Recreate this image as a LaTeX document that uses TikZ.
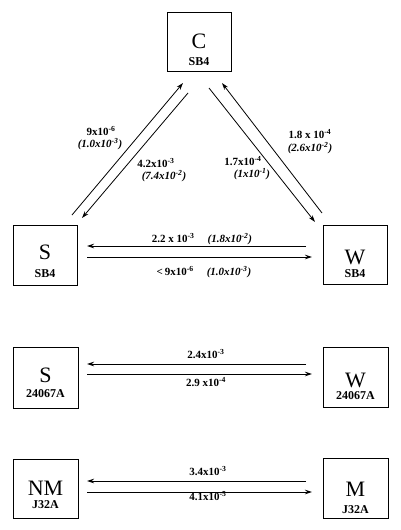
\documentclass[tikz,border=0pt]{standalone}
\usepackage{fontspec}
\setmainfont{Liberation Serif}
\usetikzlibrary{arrows.meta}
\newcommand{\sps}[1]{\textsuperscript{#1}}
\begin{document}
\begin{tikzpicture}[x=1pt,y=-1pt,
  box/.style={draw,line width=0.7pt,minimum width=64pt,minimum height=59pt,inner sep=0pt},
  big/.style={inner sep=0pt,text height=15pt,text depth=0pt,font=\fontsize{22}{22}\selectfont},
  sub/.style={inner sep=0pt,text height=8pt,text depth=0pt,font=\fontsize{12}{12}\selectfont\bfseries},
  num/.style={inner sep=0pt,text height=7.5pt,text depth=0pt,font=\fontsize{11}{11}\selectfont\bfseries},
  arr/.style={line width=0.8pt,-{Stealth[length=7pt,width=4.5pt]}}]
\useasboundingbox (0,0) rectangle (400,530);
% boxes
\node[box] (C) at (199,42) {};
\node[box,minimum height=60pt] (S1) at (45,255) {};
\node[box] (W1) at (355,254.5) {};
\node[box,minimum width=65pt,minimum height=61pt] (S2) at (45.5,377.5) {};
\node[box,minimum width=65pt,minimum height=60pt] (W2) at (355.5,377) {};
\node[box,minimum width=65pt] (NM) at (45.5,488.5) {};
\node[box,minimum width=65pt,minimum height=60pt] (M) at (355.5,488) {};
% box texts
\node[big] (Ct) at (199,41) {C};
\node[sub] (Cs) at (199,61) {SB4};
\node[big] (S1t) at (45,252) {S};
\node[sub] (S1s) at (45,273) {SB4};
\node[big] (W1t) at (355,256.5) {W};
\node[sub] (W1s) at (355,273) {SB4};
\node[big] (S2t) at (45.5,374.5) {S};
\node[sub] (S2s) at (45.5,393) {24067A};
\node[big] (W2t) at (355.5,379.5) {W};
\node[sub] (W2s) at (355.5,395.5) {24067A};
\node[big] (NMt) at (45.5,487.5) {NM};
\node[sub] (NMs) at (45.5,504) {J32A};
\node[big] (Mt) at (355.5,489) {M};
\node[sub] (Ms) at (355.5,509) {J32A};
% connector end points
\coordinate (a1) at (72,215);  \coordinate (a2) at (183,83);
\coordinate (b1) at (188,93);  \coordinate (b2) at (82,218);
\coordinate (c1) at (322,213); \coordinate (c2) at (222,83);
\coordinate (d1) at (209,88);  \coordinate (d2) at (315,222);
\coordinate (e1) at (306,246); \coordinate (e2) at (87,246);
\coordinate (f1) at (87,257);  \coordinate (f2) at (312,257);
\coordinate (g1) at (306,364); \coordinate (g2) at (87,364);
\coordinate (h1) at (87,374);  \coordinate (h2) at (312,374);
\coordinate (i1) at (306,481); \coordinate (i2) at (87,481);
\coordinate (j1) at (87,492);  \coordinate (j2) at (312,492);
% connectors
\draw[arr] (a1) -- (a2);
\draw[arr] (b1) -- (b2);
\draw[arr] (c1) -- (c2);
\draw[arr] (d1) -- (d2);
\draw[arr] (e1) -- (e2);
\draw[arr] (f1) -- (f2);
\draw[arr] (g1) -- (g2);
\draw[arr] (h1) -- (h2);
\draw[arr] (i1) -- (i2);
\draw[arr] (j1) -- (j2);
% labels
\node[num] (l1) at (101,132) {9x10\sps{-6}};
\node[num] (l1b) at (100,144) {\itshape(1.0x10\sps{-3})};
\node[num] (l2) at (156,163.5) {4.2x10\sps{-3}};
\node[num] (l2b) at (164,175.5) {\itshape(7.4x10\sps{-2})};
\node[num] (l3) at (310,135) {1.8 x 10\sps{-4}};
\node[num] (l3b) at (310,148) {\itshape(2.6x10\sps{-2})};
\node[num] (l4) at (243,161.5) {1.7x10\sps{-4}};
\node[num] (l4b) at (252,173.5) {\itshape(1x10\sps{-1})};
\node[num] (l5) at (202,239) {2.2 x 10\sps{-3}\hspace{13pt}{\itshape(1.8x10\sps{-2})}};
\node[num] (l6) at (204,272) {<\,9x10\sps{-6}\hspace{13pt}{\itshape(1.0x10\sps{-3})}};
\node[num] (l7) at (206,355) {2.4x10\sps{-3}};
\node[num] (l8) at (206,383) {2.9 x10\sps{-4}};
\node[num] (l9) at (208,472) {3.4x10\sps{-3}};
\node[num] (l10) at (208,497) {4.1x10\sps{-5}};
\end{tikzpicture}
\end{document}
